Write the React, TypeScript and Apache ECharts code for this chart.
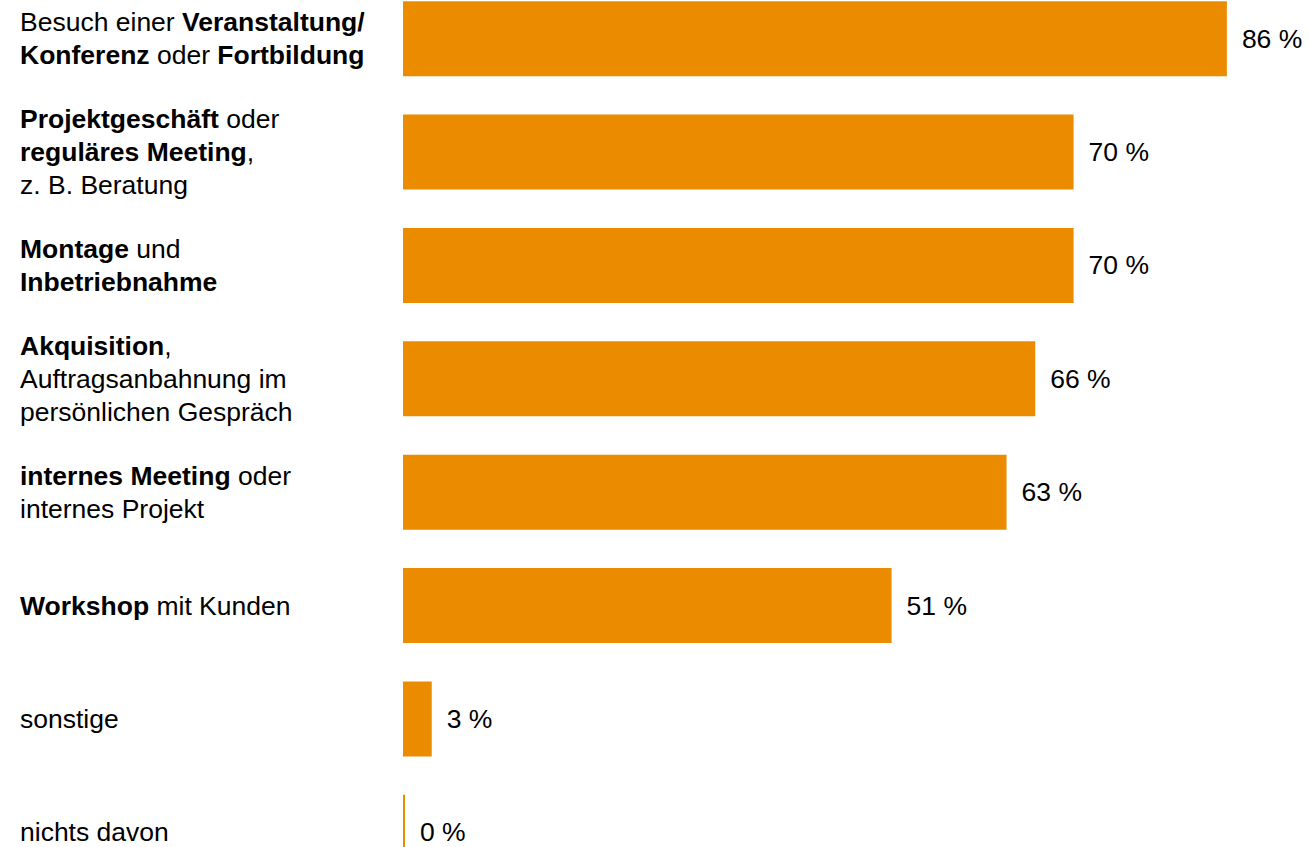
import React, { useEffect, useRef } from "react";
import * as echarts from "echarts";

const categories: string[] = [
  "Besuch einer {b|Veranstaltung/}\n{b|Konferenz} oder {b|Fortbildung}",
  "{b|Projektgeschäft} oder\n{b|reguläres Meeting},\nz. B. Beratung",
  "{b|Montage} und\n{b|Inbetriebnahme}",
  "{b|Akquisition},\nAuftragsanbahnung im\npersönlichen Gespräch",
  "{b|internes Meeting} oder\ninternes Projekt",
  "{b|Workshop} mit Kunden",
  "sonstige",
  "nichts davon",
];

const values: number[] = [86, 70, 70, 66, 63, 51, 3, 0];

const FONT = "'Liberation Sans', Arial, sans-serif";
const FS = 26.5;

export default function App() {
  const ref = useRef<HTMLDivElement>(null);
  useEffect(() => {
    if (!ref.current) return;
    const chart = echarts.init(ref.current, undefined, { renderer: "svg" });
    chart.setOption({
      animation: false,
      backgroundColor: "#ffffff",
      grid: { left: 403, top: 0, width: 958, height: 907, containLabel: false },
      xAxis: {
        type: "value",
        min: 0,
        max: 100,
        show: false,
        splitLine: { show: false },
      },
      yAxis: {
        type: "category",
        inverse: true,
        data: categories,
        axisLine: { show: false },
        axisTick: { show: false },
        splitLine: { show: false },
        axisLabel: {
          align: "left",
          margin: 383,
          fontSize: FS,
          lineHeight: 33,
          color: "#000000",
          fontFamily: FONT,
          rich: {
            b: { fontWeight: "bold", fontSize: FS, lineHeight: 33, color: "#000000", fontFamily: FONT },
          },
        },
      },
      series: [
        {
          type: "bar",
          data: values,
          barWidth: 75,
          barMinHeight: 2,
          itemStyle: { color: "#EB8C00" },
          label: {
            show: true,
            position: "right",
            distance: 15,
            formatter: "{c} %",
            fontSize: FS,
            color: "#000000",
            fontFamily: FONT,
          },
        },
      ],
    });
    return () => chart.dispose();
  }, []);
  return (
    <div
      style={{
        position: "fixed",
        left: 0,
        top: 0,
        width: 1310,
        height: 847,
        overflow: "hidden",
        background: "#ffffff",
      }}
    >
      <div
        ref={ref}
        style={{ position: "absolute", left: 0, top: -18, width: 1400, height: 920 }}
      />
    </div>
  );
}
